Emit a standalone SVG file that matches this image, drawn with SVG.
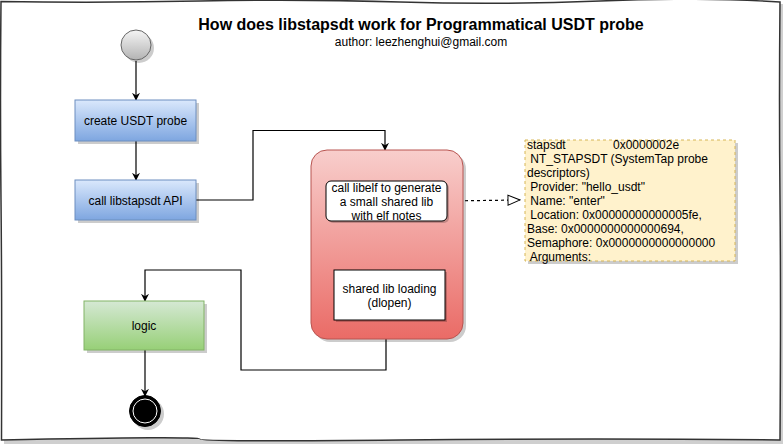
<svg xmlns="http://www.w3.org/2000/svg" width="783" height="444" viewBox="0 0 783 444">
<defs>
<linearGradient id="gBlue" x1="0" y1="0" x2="0" y2="1"><stop offset="0" stop-color="#dae8fc"/><stop offset="1" stop-color="#7ea6e0"/></linearGradient>
<linearGradient id="gGreen" x1="0" y1="0" x2="0" y2="1"><stop offset="0" stop-color="#d5e8d4"/><stop offset="1" stop-color="#97d077"/></linearGradient>
<linearGradient id="gRed" x1="0" y1="0" x2="0" y2="1"><stop offset="0" stop-color="#f8cecc"/><stop offset="1" stop-color="#ea6b66"/></linearGradient>
<linearGradient id="gGray" x1="0" y1="0" x2="0" y2="1"><stop offset="0" stop-color="#f5f5f5"/><stop offset="1" stop-color="#b3b3b3"/></linearGradient>
<marker id="arr" viewBox="0 0 10 10" refX="9" refY="5" markerWidth="8" markerHeight="8" markerUnits="userSpaceOnUse" orient="auto"><path d="M0,0 L10,5 L0,10 L3,5 Z" fill="#000"/></marker>
<marker id="tri" viewBox="0 0 14 12" refX="13" refY="6" markerWidth="14" markerHeight="12" markerUnits="userSpaceOnUse" orient="auto"><path d="M1,1 L13,6 L1,11 Z" fill="#fff" stroke="#000" stroke-width="1"/></marker>
</defs>
<style>
text{font-family:"Liberation Sans",Arial,sans-serif;fill:#000}
.lbl{font-size:12px;text-anchor:middle}
.note{font-size:12px;white-space:pre}
.shadow{fill:#000;opacity:0.2}
.conn{fill:none;stroke:#000;stroke-width:1.2}
</style>
<rect width="783" height="444" fill="#fff"/>
<g id="frame">
<rect x="4" y="4" width="779" height="440" fill="#cfcfcf"/>
<path d="M1,1.5 Q100,3 200,1 T400,2 T600,1 T780,2 Q779,100 780,200 T780,440 Q600,438 400,440 T200,439 T1.5,440 Q2,300 1,200 T1,1.5 Z" fill="#fff" stroke="#333" stroke-width="1.5"/>
</g>
<g id="title">
<text x="421" y="30" text-anchor="middle" font-size="16" font-weight="bold">How does libstapsdt work for Programmatical USDT probe</text>
<text x="421" y="46" text-anchor="middle" font-size="12">author: leezhenghui@gmail.com</text>
</g>
<g id="connectors">
<path class="conn" d="M136,61 L136,100" marker-end="url(#arr)"/>
<path class="conn" d="M136,141 L136,180" marker-end="url(#arr)"/>
<path class="conn" d="M196,200 L253,200 L253,130.5 L385,130.5 L385,150" marker-end="url(#arr)"/>
<path class="conn" d="M389,221 L389,270" marker-end="url(#arr)"/>
<path class="conn" d="M386,320 L386,370 L241,370 L241,270 L145,270 L145,301" marker-end="url(#arr)"/>
<path class="conn" d="M145,350 L145,396" marker-end="url(#arr)"/>
<path class="conn" d="M447,201 L520,200" stroke-dasharray="3,3" marker-end="url(#tri)"/>
</g>
<g id="start">
<circle cx="139" cy="48" r="15" class="shadow"/>
<circle cx="136" cy="45" r="15" fill="url(#gGray)" stroke="#666" stroke-width="1"/>
</g>
<g id="create">
<rect x="78" y="103" width="121" height="41" class="shadow"/>
<rect x="75" y="100" width="121" height="41" fill="url(#gBlue)" stroke="#6c8ebf" stroke-width="1"/>
<text class="lbl" x="135.5" y="125">create USDT probe</text>
</g>
<g id="callapi">
<rect x="78" y="183" width="121" height="40" class="shadow"/>
<rect x="75" y="180" width="121" height="40" fill="url(#gBlue)" stroke="#6c8ebf" stroke-width="1"/>
<text class="lbl" x="135.5" y="205">call libstapsdt API</text>
</g>
<g id="container">
<rect x="314" y="153" width="152" height="189" rx="16" class="shadow"/>
<rect x="311" y="150" width="152" height="189" rx="16" fill="url(#gRed)" stroke="#b85450" stroke-width="1"/>
</g>
<g id="libelf">
<rect x="328" y="183" width="121" height="40" rx="5" class="shadow"/>
<rect x="326" y="181" width="121" height="40" rx="5" fill="#fff" stroke="#000" stroke-width="1"/>
<text class="lbl" x="386.5" y="191.5"><tspan x="386.5">call libelf to generate</tspan><tspan x="386.5" dy="14">a small shared lib</tspan><tspan x="386.5" dy="14">with elf notes</tspan></text>
</g>
<g id="dlopen">
<rect x="336" y="272" width="111" height="50" class="shadow"/>
<rect x="334" y="270" width="111" height="50" fill="#fff" stroke="#000" stroke-width="1"/>
<text class="lbl" x="389.5" y="293">shared lib loading</text>
<text class="lbl" x="389.5" y="307">(dlopen)</text>
</g>
<g id="note">
<rect x="528" y="143" width="210" height="121" class="shadow"/>
<rect x="525" y="140" width="210" height="121" fill="#fff2cc" stroke="#d6b656" stroke-width="1" stroke-dasharray="3,3"/>
<text class="note" x="527" y="149">stapsdt</text>
<text class="note" x="613" y="149">0x0000002e</text>
<text class="note" x="527" y="163"> NT_STAPSDT (SystemTap probe</text>
<text class="note" x="527" y="177">descriptors)</text>
<text class="note" x="527" y="191"> Provider: "hello_usdt"</text>
<text class="note" x="527" y="205"> Name: "enter"</text>
<text class="note" x="527" y="219"> Location: 0x00000000000005fe,</text>
<text class="note" x="527" y="233">Base: 0x0000000000000694,</text>
<text class="note" x="527" y="247">Semaphore: 0x0000000000000000</text>
<text class="note" x="527" y="261"> Arguments:</text>
</g>
<g id="logic">
<rect x="87" y="304" width="120" height="49" class="shadow"/>
<rect x="84" y="301" width="120" height="49" fill="url(#gGreen)" stroke="#82b366" stroke-width="1"/>
<text class="lbl" x="144" y="330">logic</text>
</g>
<g id="end">
<circle cx="148" cy="414" r="16" class="shadow"/>
<circle cx="145" cy="411" r="15.5" fill="#000" stroke="#000" stroke-width="1"/>
<circle cx="145" cy="411" r="12" fill="#000" stroke="#fff" stroke-width="1"/>
</g>
</svg>
